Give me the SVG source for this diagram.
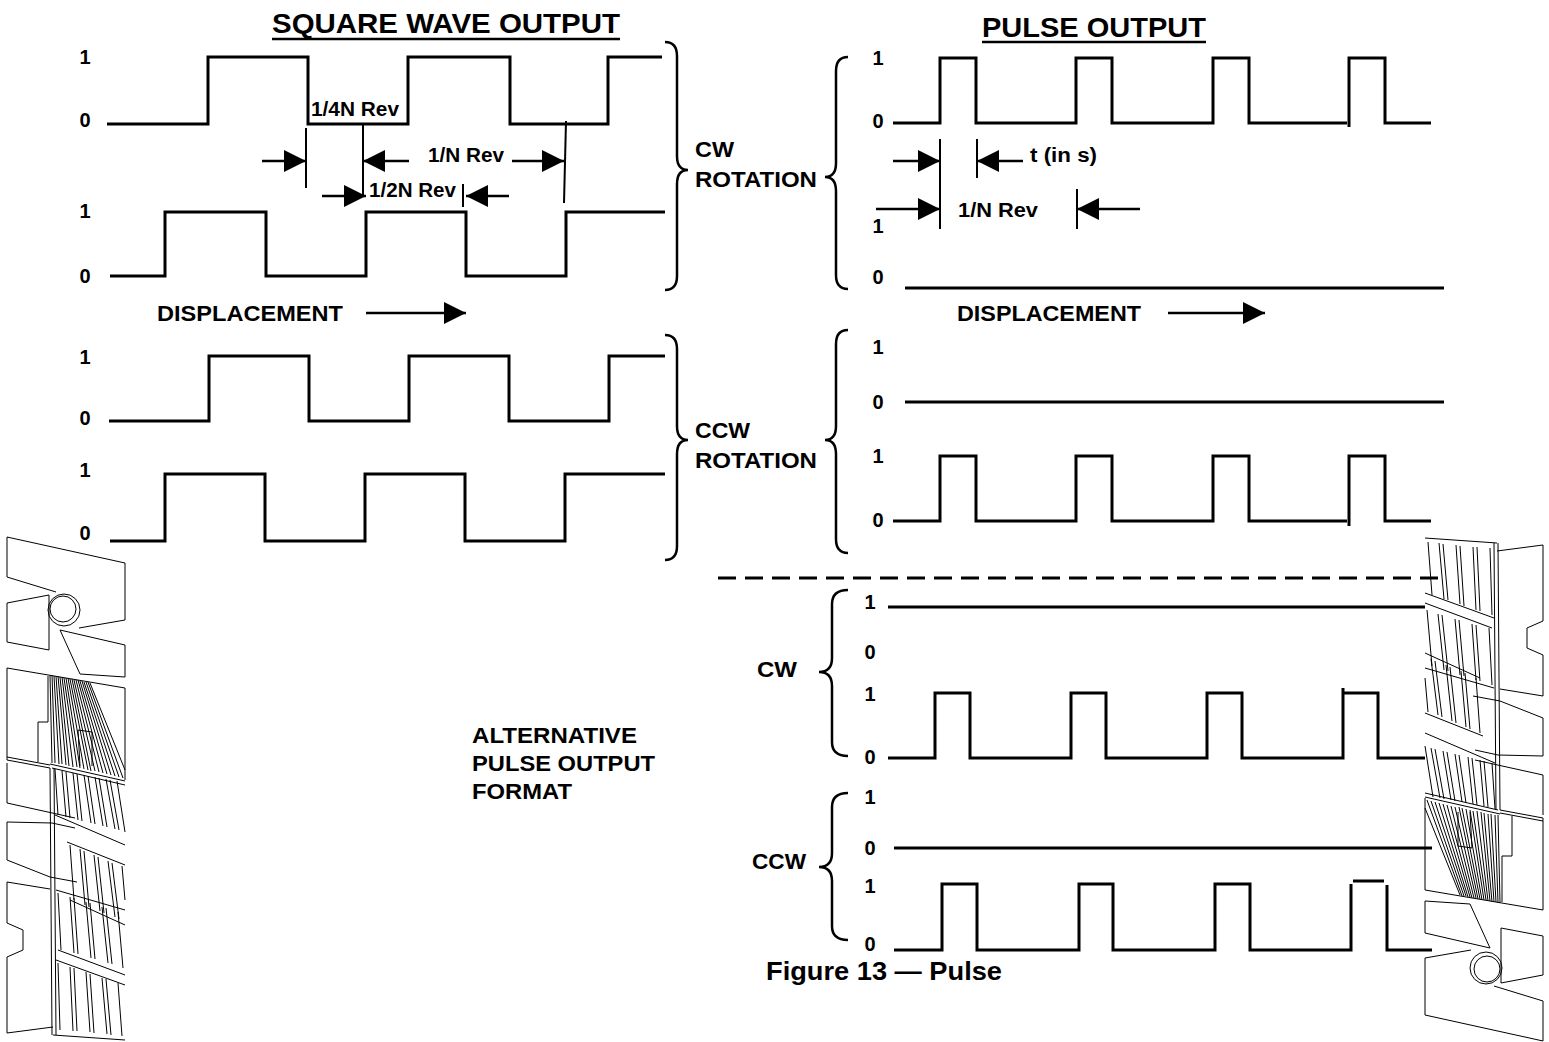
<svg xmlns="http://www.w3.org/2000/svg" xmlns:xlink="http://www.w3.org/1999/xlink" width="1549" height="1042" viewBox="0 0 1549 1042">
<style>
.w{fill:none;stroke:#000;stroke-width:3}
.d{fill:none;stroke:#000;stroke-width:2}
.a{fill:none;stroke:#000;stroke-width:2.5;marker-end:url(#ah)}
.b{fill:none;stroke:#000;stroke-width:2.5}
.art{fill:none;stroke:#000;stroke-width:1}
text{font-family:"Liberation Sans",Arial,sans-serif;font-weight:bold;fill:#000}
.lbl{font-size:20px;text-anchor:middle}
.cap{font-size:22px}
.dim{font-size:20px}
.title{font-size:28px}
</style>
<defs>
<marker id="ah" markerUnits="userSpaceOnUse" markerWidth="24" markerHeight="24" refX="22" refY="11" orient="auto">
<path d="M0,0 L22,11 L0,22 Z" fill="#000"/>
</marker>
</defs>
<rect width="1549" height="1042" fill="#fff"/>

<g id="titles">
<text class="title" x="272" y="33" textLength="348" lengthAdjust="spacingAndGlyphs">SQUARE WAVE OUTPUT</text>
<line class="b" x1="272" y1="39" x2="620" y2="39"/>
<text class="title" x="982" y="37" textLength="224" lengthAdjust="spacingAndGlyphs">PULSE OUTPUT</text>
<line class="b" x1="982" y1="42" x2="1206" y2="42"/>
</g>

<g id="square-cw">
<path class="w" d="M107,124 H208 V57 H308 V124 H408 V57 H510 V124 H608 V57 H662"/>
<path class="w" d="M110,276 H165 V212 H266 V276 H366 V212 H466 V276 H566 V212 H665"/>
<text class="lbl" x="85" y="64">1</text>
<text class="lbl" x="85" y="127">0</text>
<text class="lbl" x="85" y="218">1</text>
<text class="lbl" x="85" y="283">0</text>
</g>

<g id="square-ccw">
<path class="w" d="M109,421 H209 V356 H309 V421 H409 V356 H509 V421 H609 V356 H665"/>
<path class="w" d="M110,541 H165 V474 H265 V541 H365 V474 H465 V541 H565 V474 H665"/>
<text class="lbl" x="85" y="364">1</text>
<text class="lbl" x="85" y="425">0</text>
<text class="lbl" x="85" y="477">1</text>
<text class="lbl" x="85" y="540">0</text>
</g>

<g id="pulse-cw">
<path class="w" d="M893,123 H940 V58 H976 V123 H1076 V58 H1112 V123 H1213 V58 H1249 V123 H1347 M1349,127 V58 H1385 V123 H1431"/>
<path class="w" d="M905,288 H1444"/>
<text class="lbl" x="878" y="65">1</text>
<text class="lbl" x="878" y="128">0</text>
<text class="lbl" x="878" y="233">1</text>
<text class="lbl" x="878" y="284">0</text>
</g>

<g id="pulse-ccw">
<path class="w" d="M905,402 H1444"/>
<path class="w" d="M893,521 H940 V456 H976 V521 H1076 V456 H1112 V521 H1213 V456 H1249 V521 H1347 M1349,526 V456 H1385 V521 H1431"/>
<text class="lbl" x="878" y="354">1</text>
<text class="lbl" x="878" y="409">0</text>
<text class="lbl" x="878" y="463">1</text>
<text class="lbl" x="878" y="527">0</text>
</g>

<g id="alt-cw">
<path class="w" d="M888,607 H1425"/>
<path class="w" d="M888,758 H935 V693 H970 V758 H1071 V693 H1106 V758 H1207 V693 H1242 V758 H1343 V688 M1343,693 H1378 V758 H1425"/>
<text class="lbl" x="870" y="609">1</text>
<text class="lbl" x="870" y="659">0</text>
<text class="lbl" x="870" y="701">1</text>
<text class="lbl" x="870" y="764">0</text>
<text class="cap" x="757" y="677" textLength="40" lengthAdjust="spacingAndGlyphs">CW</text>
<path class="b" d="M848,590 Q832,590 832,604 L832,658 Q832,672 819,672 Q832,672 832,686 L832,742 Q832,756 848,756"/>
</g>

<g id="alt-ccw">
<path class="w" d="M894,848 H1432"/>
<path class="w" d="M894,950 H942 V884 H977 V950 H1079 V884 H1113 V950 H1215 V884 H1250 V950 H1351 V884 M1353,881 H1384 M1387,885 V950 H1432"/>
<text class="lbl" x="870" y="804">1</text>
<text class="lbl" x="870" y="855">0</text>
<text class="lbl" x="870" y="893">1</text>
<text class="lbl" x="870" y="951">0</text>
<text class="cap" x="752" y="869" textLength="54" lengthAdjust="spacingAndGlyphs">CCW</text>
<path class="b" d="M848,793 Q832,793 832,807 L832,853 Q832,867 819,867 Q832,867 832,881 L832,926 Q832,940 848,940"/>
</g>

<g id="braces">
<path class="b" d="M665,42 Q677,42 677,56 L677,156 Q677,170 688,170 Q677,170 677,184 L677,276 Q677,290 665,290"/>
<path class="b" d="M665,335 Q677,335 677,349 L677,426 Q677,440 688,440 Q677,440 677,454 L677,546 Q677,560 665,560"/>
<path class="b" d="M848,57 Q836,57 836,71 L836,163 Q836,177 825,177 Q836,177 836,191 L836,275 Q836,289 848,289"/>
<path class="b" d="M848,330 Q836,330 836,344 L836,426 Q836,440 825,440 Q836,440 836,454 L836,539 Q836,553 848,553"/>
</g>

<g id="rotation-labels">
<text class="cap" x="695" y="157" textLength="39" lengthAdjust="spacingAndGlyphs">CW</text>
<text class="cap" x="695" y="187" textLength="122" lengthAdjust="spacingAndGlyphs">ROTATION</text>
<text class="cap" x="695" y="438" textLength="55" lengthAdjust="spacingAndGlyphs">CCW</text>
<text class="cap" x="695" y="468" textLength="122" lengthAdjust="spacingAndGlyphs">ROTATION</text>
</g>

<g id="dimensions">
<line class="d" x1="306" y1="128" x2="306" y2="188"/>
<line class="d" x1="363" y1="124" x2="363" y2="196"/>
<line class="d" x1="566" y1="121" x2="564" y2="203"/>
<line class="d" x1="463" y1="184" x2="463" y2="207"/>
<line class="d" x1="940" y1="139" x2="940" y2="229"/>
<line class="d" x1="977" y1="139" x2="977" y2="178"/>
<line class="d" x1="1077" y1="189" x2="1077" y2="229"/>
<line class="a" x1="262" y1="161" x2="306" y2="161"/>
<line class="a" x1="409" y1="161" x2="363" y2="161"/>
<line class="a" x1="512" y1="161" x2="564" y2="161"/>
<line class="a" x1="322" y1="196" x2="366" y2="196"/>
<line class="a" x1="509" y1="196" x2="466" y2="196"/>
<line class="a" x1="893" y1="161" x2="940" y2="161"/>
<line class="a" x1="1023" y1="161" x2="977" y2="161"/>
<line class="a" x1="876" y1="209" x2="940" y2="209"/>
<line class="a" x1="1140" y1="209" x2="1077" y2="209"/>
<text class="dim" x="311" y="116" textLength="88" lengthAdjust="spacingAndGlyphs">1/4N Rev</text>
<text class="dim" x="428" y="162" textLength="76" lengthAdjust="spacingAndGlyphs">1/N Rev</text>
<text class="dim" x="369" y="197" textLength="87" lengthAdjust="spacingAndGlyphs">1/2N Rev</text>
<text class="dim" x="1030" y="162" textLength="67" lengthAdjust="spacingAndGlyphs">t (in s)</text>
<text class="dim" x="958" y="217" textLength="80" lengthAdjust="spacingAndGlyphs">1/N Rev</text>
</g>

<g id="displacement">
<text class="cap" x="157" y="321" textLength="186" lengthAdjust="spacingAndGlyphs">DISPLACEMENT</text>
<line class="a" x1="366" y1="313" x2="466" y2="313"/>
<text class="cap" x="957" y="321" textLength="184" lengthAdjust="spacingAndGlyphs">DISPLACEMENT</text>
<line class="a" x1="1168" y1="313" x2="1265" y2="313"/>
</g>

<g id="separator">
<line x1="718" y1="578" x2="1446" y2="578" stroke="#000" stroke-width="3" stroke-dasharray="18 9"/>
</g>

<g id="alt-label">
<text class="cap" x="472" y="743" textLength="165" lengthAdjust="spacingAndGlyphs">ALTERNATIVE</text>
<text class="cap" x="472" y="771" textLength="183" lengthAdjust="spacingAndGlyphs">PULSE OUTPUT</text>
<text class="cap" x="472" y="799" textLength="100" lengthAdjust="spacingAndGlyphs">FORMAT</text>
</g>

<g id="caption">
<text x="766" y="980" font-size="26" textLength="236" lengthAdjust="spacingAndGlyphs">Figure 13 — Pulse</text>
</g>

<g id="art-left" class="art">
<path d="M56,592 L7,577 L7,537 L125,563 L125,620 L79,628"/>
<circle cx="64" cy="610" r="16"/>
<circle cx="63" cy="609" r="13"/>
<path d="M7,603 L49,595 L49,650 L7,642 Z"/>
<path d="M60,630 L125,645 L125,677 L80,674 Z"/>
<path d="M7,668 L125,688 L125,780 M7,668 L7,760 M48,676 L48,722 L38,722 L38,762 M7,757 L50,765 M7,760 L50,768"/>
<path d="M50,675 L52,763 M52,675 L55,763 M54,676 L59,764 M56,676 L62,764 M58,676 L66,765 M60,677 L69,766 M62,677 L73,767 M64,678 L77,767 M66,678 L80,768 M68,678 L84,769 M70,679 L88,770 M72,679 L91,771 M74,680 L95,771 M76,680 L99,772 M78,680 L103,773 M80,681 L107,774 M82,681 L111,775 M84,682 L115,776 M86,682 L119,777 M88,682 L123,778 M90,683 L125,770"/>
<path d="M78,730 L92,732 L92,766 M78,730 L80,766"/>
<path d="M50,764 L125,781 M52,768 L125,785"/>
<path d="M55,769 L58,815 M62,771 L66,817 M66,772 L70,818 M73,773 L78,820 M77,774 L82,821 M84,775 L91,823 M88,776 L95,824 M95,777 L103,826 M99,778 L107,827 M106,779 L115,829 M110,780 L119,830 M117,781 L125,832"/>
<path d="M55,815 L125,845"/>
<path d="M7,763 L7,803 L75,818"/>
<path d="M7,822 L52,823 L75,828 M7,822 L7,860 L50,877 L77,882"/>
<path d="M7,882 L50,889 M7,882 L7,923 L23,930 L23,950 L7,957 L7,1033 L53,1027"/>
<path d="M50,768 L52,1035 M54,768 L56,1035"/>
<path d="M67,842 L125,865 M70,845 L74,900 M80,849 L85,905 M84,851 L89,907 M94,855 L100,911 M98,857 L104,913 M108,861 L115,917 M112,863 L119,919 M122,866 L125,900 M70,900 L125,925"/>
<path d="M56,890 L125,910 M58,893 L61,950 M70,897 L74,953 M74,898 L78,954 M86,902 L91,958 M90,903 L95,959 M102,907 L108,963 M106,908 L112,964 M118,912 L123,968 M58,950 L125,975"/>
<path d="M56,960 L125,985 M58,963 L60,1030 M70,967 L73,1031 M74,968 L77,1031 M86,972 L90,1032 M90,974 L94,1033 M102,978 L107,1034 M106,979 L111,1035 M118,983 L122,1036 M53,1035 L125,1040"/>
</g>
<use xlink:href="#art-left" href="#art-left" transform="rotate(180 775 789)"/>
</svg>
